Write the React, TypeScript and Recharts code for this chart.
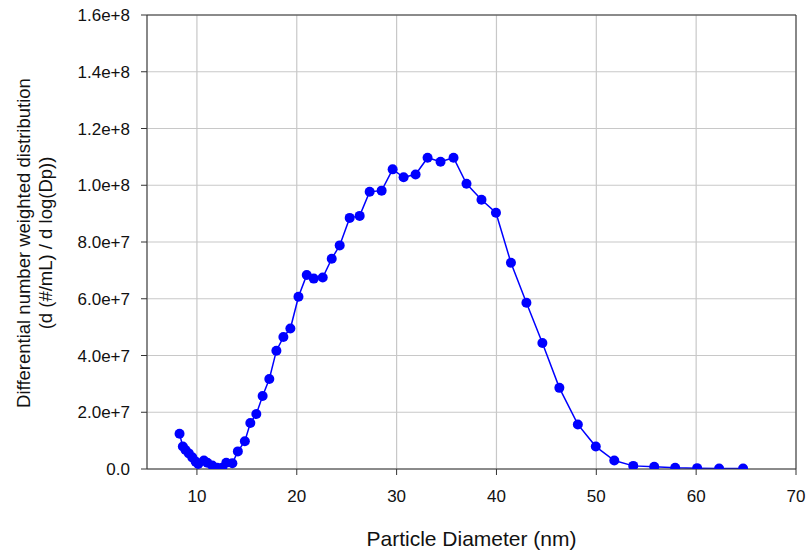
import { CartesianGrid, Line, LineChart, ReferenceLine, XAxis, YAxis } from "recharts";

// particle diameter (nm)
const diameters = [
  8.26, 8.59, 8.86, 9.19, 9.53, 9.87, 10.13, 10.7, 11.04, 11.54, 12.04, 12.54, 12.94, 13.55,
  14.1, 14.8, 15.35, 15.95, 16.58, 17.25, 17.96, 18.66, 19.36, 20.17, 21.0, 21.7, 22.6, 23.5,
  24.3, 25.3, 26.3, 27.3, 28.5, 29.6, 30.7, 31.9, 33.1, 34.4, 35.7, 37.0, 38.5, 39.95, 41.45,
  43.0, 44.6, 46.3, 48.15, 49.95, 51.8, 53.7, 55.8, 57.9, 60.1, 62.3, 64.7,
];

// dN/dlogDp (#/mL)
const counts = [
  1.24e7, 7.9e6, 6.7e6, 5.5e6, 4.1e6, 2.6e6, 1.8e6, 3.0e6, 2.2e6, 1.2e6, 4.0e5, 4.0e5, 2.2e6, 2.0e6,
  6.2e6, 9.8e6, 1.62e7, 1.94e7, 2.57e7, 3.17e7, 4.17e7, 4.65e7, 4.95e7, 6.07e7, 6.84e7, 6.71e7, 6.75e7, 7.41e7,
  7.88e7, 8.85e7, 8.92e7, 9.77e7, 9.81e7, 1.056e8, 1.028e8, 1.038e8, 1.097e8, 1.083e8, 1.097e8, 1.005e8, 9.49e7, 9.03e7, 7.27e7,
  5.86e7, 4.44e7, 2.86e7, 1.57e7, 7.9e6, 3.0e6, 1.1e6, 8.0e5, 4.0e5, 3.0e5, 2.0e5, 2.0e5,
];

const xTicks = [10, 20, 30, 40, 50, 60, 70];
const yTicks = [0, 2e7, 4e7, 6e7, 8e7, 1e8, 1.2e8, 1.4e8, 1.6e8];

const data = diameters.map((d, i) => ({ d, n: counts[i] }));

const font = "'Liberation Sans', Arial, sans-serif";
const axisColor = "#333";
const gridColor = "#c8c8c8";

const fmtY = (v: number) => (v === 0 ? "0.0" : v.toExponential(1));

const YTitle = (props: any) => {
  const vb = props.viewBox;
  const cy = vb.y + vb.height / 2 + 1;
  return (
    <g fontFamily={font} fontSize={18.5} fill="#111" textAnchor="middle">
      <text x={29.5} y={cy} transform={`rotate(-90 29.5 ${cy})`}>
        Differential number weighted distribution
      </text>
      <text x={52} y={cy} transform={`rotate(-90 52 ${cy})`}>
        (d (#/mL) / d log(Dp))
      </text>
    </g>
  );
};

const XTitle = (props: any) => {
  const vb = props.viewBox;
  return (
    <text x={vb.x + vb.width / 2} y={vb.y + 77} fontFamily={font} fontSize={21} fill="#111" textAnchor="middle">
      Particle Diameter (nm)
    </text>
  );
};

export default function App() {
  return (
    <div style={{ position: "fixed", left: 0, top: 0, width: 809, height: 551, background: "#fff" }}>
      <LineChart width={809} height={551} data={data} margin={{ top: 15, right: 13, left: 0, bottom: 0 }}>
        <CartesianGrid stroke={gridColor} strokeWidth={1.2} verticalPoints={undefined} />
        <XAxis
          dataKey="d"
          type="number"
          domain={[5, 70]}
          ticks={xTicks}
          height={82}
          tickSize={6}
          tickMargin={15}
          stroke={axisColor}
          tick={{ fill: "#111", fontSize: 17, fontFamily: font }}
          label={{ content: XTitle }}
          allowDataOverflow
        />
        <YAxis
          type="number"
          domain={[0, 1.6e8]}
          ticks={yTicks}
          width={147}
          tickSize={6}
          tickMargin={11}
          stroke={axisColor}
          tickFormatter={fmtY}
          tick={{ fill: "#111", fontSize: 17, fontFamily: font }}
          label={{ content: YTitle }}
          allowDataOverflow
        />
        <ReferenceLine y={1.6e8} stroke={axisColor} />
        <ReferenceLine x={70} stroke={axisColor} />
        <Line
          type="linear"
          dataKey="n"
          stroke="#0000ff"
          strokeWidth={1.5}
          dot={{ r: 5, fill: "#0000ff", stroke: "none" }}
          activeDot={false}
          isAnimationActive={false}
        />
      </LineChart>
    </div>
  );
}
